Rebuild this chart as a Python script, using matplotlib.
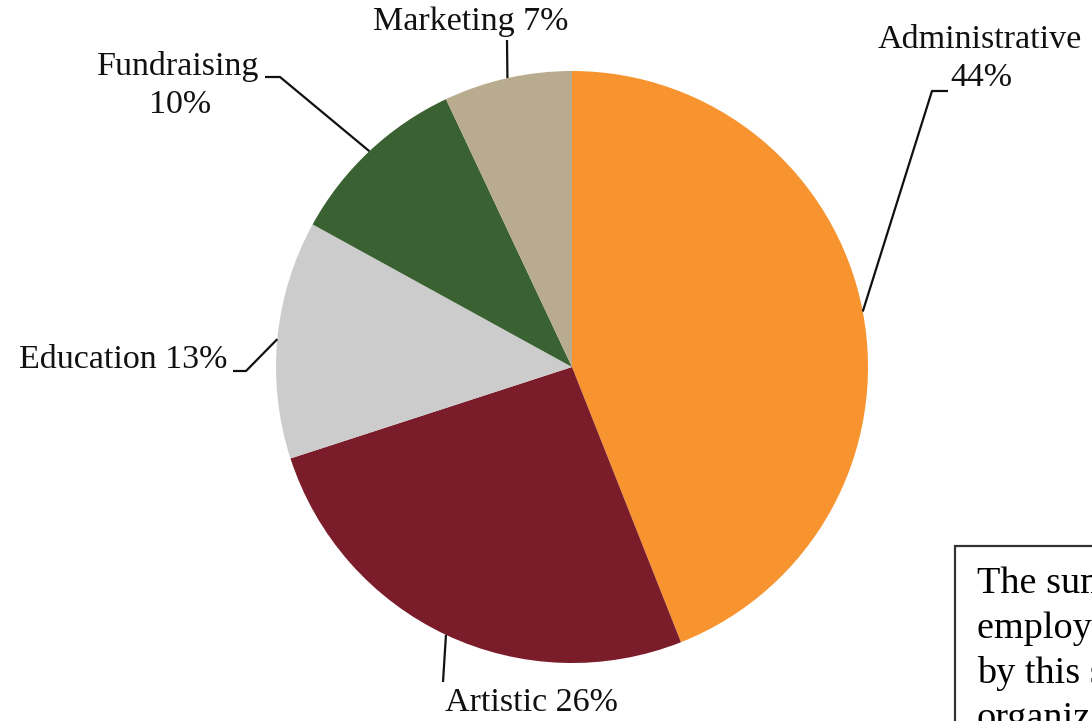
import numpy as np
import matplotlib
matplotlib.use("Agg")
import matplotlib.pyplot as plt
from matplotlib.patches import Rectangle

categories = ["Administrative", "Artistic", "Education", "Fundraising", "Marketing"]
shares = [44, 26, 13, 10, 7]
colors = ["#F7942F", "#7A1C2A", "#CCCCCC", "#3A6131", "#B9AB8D"]
note_lines = ["The sum of", "employees represented", "by this survey of", "organizations"]

W, H = 1092, 721
fig = plt.figure(figsize=(W / 100, H / 100), dpi=100)
ax = fig.add_axes([0, 0, 1, 1])
ax.set_xlim(0, W)
ax.set_ylim(0, H)
ax.set_aspect("equal")
ax.axis("off")

def py(y):  # pixel-from-top to data y
    return H - y

cx, cy, r = 572, py(367), 296
wedges, _ = ax.pie(shares, colors=colors, startangle=90, counterclock=False,
                   center=(cx, cy), radius=r, wedgeprops=dict(linewidth=0),
                   frame=True)
ax.set_xlim(0, W)
ax.set_ylim(0, H)
ax.axis("off")

font = dict(family="Liberation Serif", size=24.5, color="#111111")

# label layout: (text lines with centers), leader path points after anchor
layout = {
    "Administrative": dict(lines=[("Administrative", 980, 40), ("{p}%", 981, 78)],
                           path=[(932, 91), (948, 91)]),
    "Artistic": dict(lines=[("Artistic {p}%", 531, 703)],
                     path=[(443, 682)]),
    "Education": dict(lines=[("Education {p}%", 123, 360)],
                      path=[(246, 371), (233, 371)]),
    "Fundraising": dict(lines=[("Fundraising", 178, 67), ("{p}%", 180, 105)],
                        path=[(280, 77), (265, 77)]),
    "Marketing": dict(lines=[("Marketing {p}%", 471, 22)],
                      path=[(507, 40)]),
}

for w, cat, p in zip(wedges, categories, shares):
    mid = np.deg2rad((w.theta1 + w.theta2) / 2)
    ax_x = cx + r * np.cos(mid)
    ax_y = cy + r * np.sin(mid)
    info = layout[cat]
    xs = [ax_x] + [q[0] for q in info["path"]]
    ys = [ax_y] + [py(q[1]) for q in info["path"]]
    ax.plot(xs, ys, color="#111111", lw=1.6, solid_capstyle="butt")
    for txt, tx, ty in info["lines"]:
        ax.text(tx, py(ty), txt.format(p=p), ha="center", va="center", **font)

# note box (clipped by figure edge)
ax.add_patch(Rectangle((955, py(760)), 300, 760 - 546, fill=False,
                       edgecolor="#333333", lw=1.6, clip_on=False))
for i, line in enumerate(note_lines):
    ax.text(977, py(593 + 45 * i), line, ha="left", va="baseline",
            family="Liberation Serif", size=27.5, color="black")

fig.savefig("out.png", dpi=100)
